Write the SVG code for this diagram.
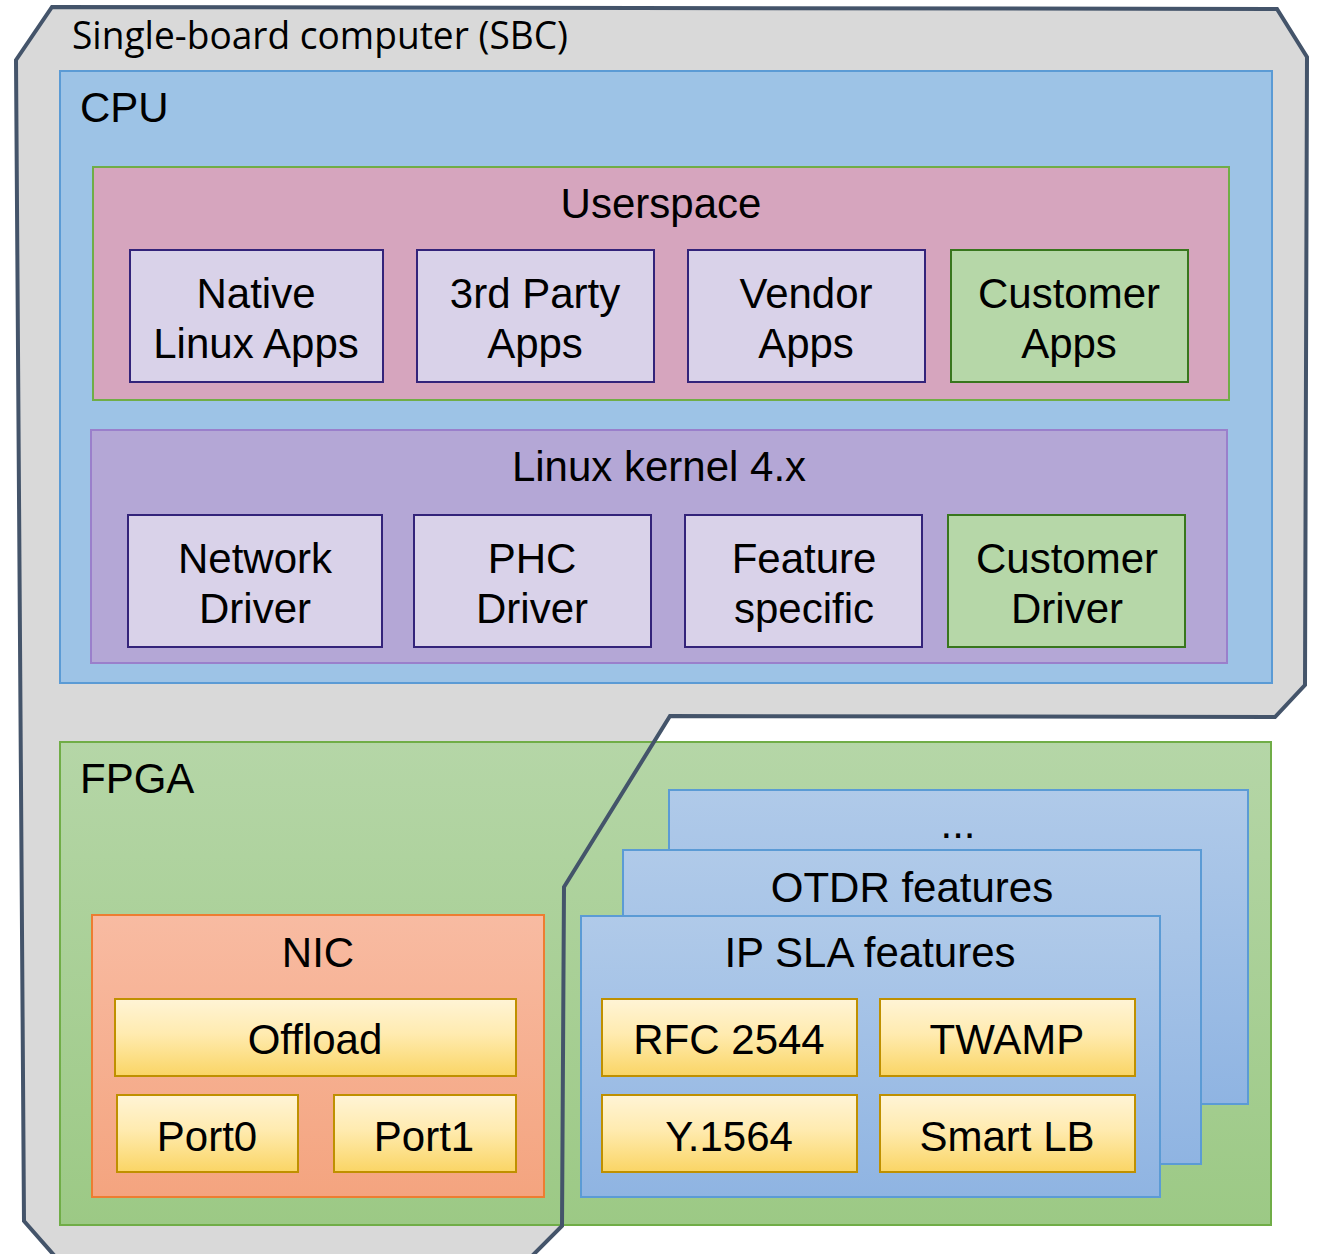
<svg xmlns="http://www.w3.org/2000/svg" width="1319" height="1254" viewBox="0 0 1319 1254">
  <style>
    .lbl { font-family: "Liberation Sans", Arial, sans-serif; font-size: 42px; fill: #000; }
    .mid { text-anchor: middle; }
    .sbc-title { font-family: "Open Sans", "Noto Sans", sans-serif; font-size: 38px; fill: #000; }
    .box-app { fill: #D9D2E9; stroke: #33237A; stroke-width: 2; }
    .box-cust { fill: #B6D7A8; stroke: #38761D; stroke-width: 2; }
    .box-yel { fill: url(#gYellow); stroke: #BF9000; stroke-width: 2; }
    .box-feat { fill: url(#gBlue); stroke: #5B9BD5; stroke-width: 2; }
  </style>
  <defs>
    <linearGradient id="gYellow" x1="0" y1="0" x2="0" y2="1">
      <stop offset="0" stop-color="#FFF4D6"/>
      <stop offset="0.45" stop-color="#FFEBB0"/>
      <stop offset="1" stop-color="#FAD565"/>
    </linearGradient>
    <linearGradient id="gBlue" x1="0" y1="0" x2="0" y2="1">
      <stop offset="0" stop-color="#B0CAE9"/>
      <stop offset="1" stop-color="#8FB4E2"/>
    </linearGradient>
    <linearGradient id="gGreen" x1="0" y1="0" x2="0" y2="1">
      <stop offset="0" stop-color="#B5D6A7"/>
      <stop offset="1" stop-color="#9CC985"/>
    </linearGradient>
    <linearGradient id="gSalmon" x1="0" y1="0" x2="0" y2="1">
      <stop offset="0" stop-color="#F8BBA2"/>
      <stop offset="1" stop-color="#F4A47F"/>
    </linearGradient>
  </defs>

  <rect x="0" y="0" width="1319" height="1254" fill="#FFFFFF"/>

  <!-- Single-board computer outline: fill first, stroke drawn later over FPGA -->
  <g id="sbc">
    <polygon id="sbc-fill" fill="#D9D9D9" stroke="none"
      points="52,7 1277,9 1307,57 1305,685 1275,717 670,716 564,887 562,1226 526,1262 60,1262 24,1221 16,60"/>
  </g>

  <!-- FPGA region -->
  <g id="fpga">
    <rect x="60" y="742" width="1211" height="483" fill="url(#gGreen)" stroke="#70AD47" stroke-width="2"/>
    <text class="lbl" x="80" y="793">FPGA</text>
  </g>

  <g id="sbc-outline">
    <polygon fill="none" stroke="#44546A" stroke-width="4" stroke-linejoin="miter"
      points="52,7 1277,9 1307,57 1305,685 1275,717 670,716 564,887 562,1226 526,1262 60,1262 24,1221 16,60"/>
    <text class="sbc-title" x="72" y="49" textLength="496" lengthAdjust="spacingAndGlyphs">Single-board computer (SBC)</text>
  </g>

  <!-- CPU region -->
  <g id="cpu">
    <rect x="60" y="71" width="1212" height="612" fill="#9DC3E6" stroke="#5B9BD5" stroke-width="2"/>
    <text class="lbl" x="80" y="122">CPU</text>
  </g>

  <g id="userspace">
    <rect x="93" y="167" width="1136" height="233" fill="#D6A5BE" stroke="#70AD47" stroke-width="2"/>
    <text class="lbl mid" x="661" y="218">Userspace</text>
  </g>

  <g id="native-apps">
    <rect class="box-app" x="130" y="250" width="253" height="132"/>
    <text class="lbl mid" x="256" y="308">Native</text>
    <text class="lbl mid" x="256" y="358">Linux Apps</text>
  </g>
  <g id="third-party-apps">
    <rect class="box-app" x="417" y="250" width="237" height="132"/>
    <text class="lbl mid" x="535" y="308">3rd Party</text>
    <text class="lbl mid" x="535" y="358">Apps</text>
  </g>
  <g id="vendor-apps">
    <rect class="box-app" x="688" y="250" width="237" height="132"/>
    <text class="lbl mid" x="806" y="308">Vendor</text>
    <text class="lbl mid" x="806" y="358">Apps</text>
  </g>
  <g id="customer-apps">
    <rect class="box-cust" x="951" y="250" width="237" height="132"/>
    <text class="lbl mid" x="1069" y="308">Customer</text>
    <text class="lbl mid" x="1069" y="358">Apps</text>
  </g>

  <g id="kernel">
    <rect x="91" y="430" width="1136" height="233" fill="#B4A7D6" stroke="#9A7FCB" stroke-width="2"/>
    <text class="lbl mid" x="659" y="481">Linux kernel 4.x</text>
  </g>

  <g id="network-driver">
    <rect class="box-app" x="128" y="515" width="254" height="132"/>
    <text class="lbl mid" x="255" y="573">Network</text>
    <text class="lbl mid" x="255" y="623">Driver</text>
  </g>
  <g id="phc-driver">
    <rect class="box-app" x="414" y="515" width="237" height="132"/>
    <text class="lbl mid" x="532" y="573">PHC</text>
    <text class="lbl mid" x="532" y="623">Driver</text>
  </g>
  <g id="feature-specific">
    <rect class="box-app" x="685" y="515" width="237" height="132"/>
    <text class="lbl mid" x="804" y="573">Feature</text>
    <text class="lbl mid" x="804" y="623">specific</text>
  </g>
  <g id="customer-driver">
    <rect class="box-cust" x="948" y="515" width="237" height="132"/>
    <text class="lbl mid" x="1067" y="573">Customer</text>
    <text class="lbl mid" x="1067" y="623">Driver</text>
  </g>

  <!-- NIC block -->
  <g id="nic">
    <rect x="92" y="915" width="452" height="282" fill="url(#gSalmon)" stroke="#ED7D31" stroke-width="2"/>
    <text class="lbl mid" x="318" y="967">NIC</text>
  </g>
  <g id="offload">
    <rect class="box-yel" x="115" y="999" width="401" height="77"/>
    <text class="lbl mid" x="315" y="1054">Offload</text>
  </g>
  <g id="port0">
    <rect class="box-yel" x="117" y="1095" width="181" height="77"/>
    <text class="lbl mid" x="207" y="1151">Port0</text>
  </g>
  <g id="port1">
    <rect class="box-yel" x="334" y="1095" width="182" height="77"/>
    <text class="lbl mid" x="424" y="1151">Port1</text>
  </g>

  <!-- Stacked feature sets -->
  <g id="more-features">
    <rect class="box-feat" x="669" y="790" width="579" height="314"/>
    <text class="lbl mid" x="958" y="838">...</text>
  </g>
  <g id="otdr-features">
    <rect class="box-feat" x="623" y="850" width="578" height="314"/>
    <text class="lbl mid" x="912" y="902">OTDR features</text>
  </g>
  <g id="ipsla-features">
    <rect class="box-feat" x="581" y="916" width="579" height="281"/>
    <text class="lbl mid" x="870" y="967">IP SLA features</text>
  </g>
  <g id="rfc2544">
    <rect class="box-yel" x="602" y="999" width="255" height="77"/>
    <text class="lbl mid" x="729" y="1054">RFC 2544</text>
  </g>
  <g id="twamp">
    <rect class="box-yel" x="880" y="999" width="255" height="77"/>
    <text class="lbl mid" x="1007" y="1054">TWAMP</text>
  </g>
  <g id="y1564">
    <rect class="box-yel" x="602" y="1095" width="255" height="77"/>
    <text class="lbl mid" x="729" y="1151">Y.1564</text>
  </g>
  <g id="smart-lb">
    <rect class="box-yel" x="880" y="1095" width="255" height="77"/>
    <text class="lbl mid" x="1007" y="1151">Smart LB</text>
  </g>

  <!-- no connectors in this diagram -->
  <g id="connectors"/>
</svg>
